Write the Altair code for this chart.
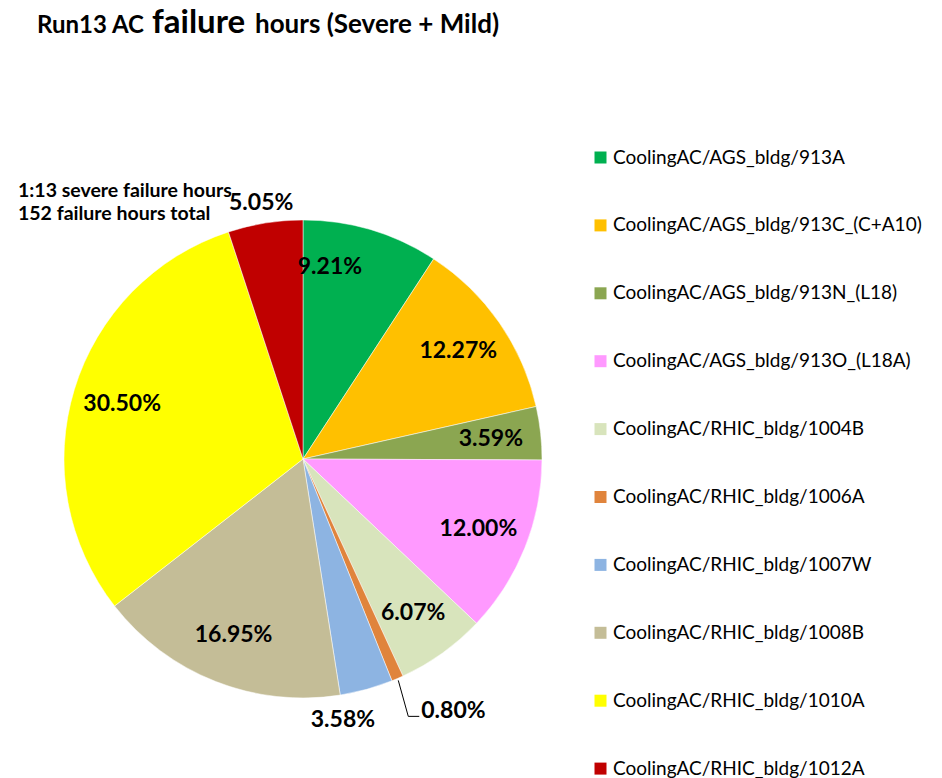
import altair as alt
import pandas as pd

categories = [
    "CoolingAC/AGS_bldg/913A",
    "CoolingAC/AGS_bldg/913C_(C+A10)",
    "CoolingAC/AGS_bldg/913N_(L18)",
    "CoolingAC/AGS_bldg/913O_(L18A)",
    "CoolingAC/RHIC_bldg/1004B",
    "CoolingAC/RHIC_bldg/1006A",
    "CoolingAC/RHIC_bldg/1007W",
    "CoolingAC/RHIC_bldg/1008B",
    "CoolingAC/RHIC_bldg/1010A",
    "CoolingAC/RHIC_bldg/1012A",
]
values = [9.21, 12.27, 3.59, 12.00, 6.07, 0.80, 3.58, 16.95, 30.50, 5.05]
colors = ["#00B050", "#FFC000", "#8BA651", "#FF99FF", "#D8E4BC",
          "#E0843C", "#8DB4E2", "#C4BD97", "#FFFF00", "#C00000"]

df = pd.DataFrame({
    "category": categories,
    "value": values,
    "order": list(range(len(values))),
    "label": [f"{v:.2f}%" for v in values],
})

FONT = "Lato"
CX, CY, R = 295, 451, 239  # view coords (page minus 8px margin)
LBL = 23

color_scale = alt.Scale(domain=categories, range=colors)

pie = alt.Chart(df).mark_arc(outerRadius=R, stroke="white", strokeWidth=0.5).encode(
    theta=alt.Theta("value:Q", stack=True),
    order=alt.Order("order:Q"),
    color=alt.Color(
        "category:N", scale=color_scale,
        legend=alt.Legend(
            title=None, orient="none", legendX=583, legendY=140,
            symbolType="square", symbolSize=144, symbolStrokeWidth=0,
            labelFont=FONT, labelFontSize=19, labelColor="#000000",
            rowPadding=47.9, labelOffset=3, labelLimit=400,
        ),
    ),
    x=alt.value(CX),
    y=alt.value(CY),
)

base = (
    alt.Chart(df)
    .transform_window(cum="sum(value)", sort=[alt.SortField("order")], frame=[None, 0])
    .transform_joinaggregate(total="sum(value)")
    .transform_calculate(mid="(datum.cum - datum.value/2)/datum.total*2*PI")
)


def label_layer(filt, r, dtheta=0.0, align="center", dx=0, dy=0, size=LBL):
    return (
        base.transform_filter(filt)
        .transform_calculate(
            px=f"{CX} + {r}*sin(datum.mid + {dtheta}*PI/180)",
            py=f"{CY} - {r}*cos(datum.mid + {dtheta}*PI/180)",
        )
        .mark_text(font=FONT, fontSize=size, fontWeight="bold", color="#000000",
                   align=align, baseline="middle", dx=dx, dy=dy)
        .encode(x=alt.X("px:Q", scale=None), y=alt.Y("py:Q", scale=None), text="label:N")
    )


normal = label_layer("indexof([1,2,3,4,7,8], datum.order) >= 0", 189)
lab0 = label_layer("datum.order == 0", 194, -8.6)
lab6 = label_layer("datum.order == 6", 264, 6.7)
lab9 = label_layer("datum.order == 9", 259, -0.2)

# 0.80% label with leader line
edge = base.transform_filter("datum.order == 5").transform_calculate(
    ex=f"{CX} + {R + 2}*sin(datum.mid)",
    ey=f"{CY} - {R + 2}*cos(datum.mid)",
)
lead1 = edge.transform_calculate(
    ex2="datum.ex + 10", ey2="datum.ey + 36"
).mark_rule(color="#000000", strokeWidth=1).encode(
    x=alt.X("ex:Q", scale=None), y=alt.Y("ey:Q", scale=None),
    x2="ex2:Q", y2="ey2:Q",
)
lead2 = edge.transform_calculate(
    sx="datum.ex + 10", sy="datum.ey + 36", sx2="datum.ex + 21"
).mark_rule(color="#000000", strokeWidth=1).encode(
    x=alt.X("sx:Q", scale=None), y=alt.Y("sy:Q", scale=None), x2="sx2:Q",
)
lab5 = edge.mark_text(font=FONT, fontSize=LBL, fontWeight="bold", color="#000000",
                      align="left", baseline="middle", dx=23, dy=31).encode(
    x=alt.X("ex:Q", scale=None), y=alt.Y("ey:Q", scale=None), text="label:N")

# Title in three parts (middle word larger)
title_parts = [
    ("Run13 AC", 29, 24),
    ("failure", 144, 33),
    ("hours (Severe + Mild)", 247, 26),
]
title_layers = [
    alt.Chart(pd.DataFrame({"t": [t]})).mark_text(
        font=FONT, fontSize=s, fontWeight="bold", color="#000000",
        align="left", baseline="alphabetic",
    ).encode(text="t:N", x=alt.value(x), y=alt.value(25))
    for t, x, s in title_parts
]

note_lines = ["1:13 severe failure hours", "152 failure hours total"]
notes = [
    alt.Chart(pd.DataFrame({"t": [t]})).mark_text(
        font=FONT, fontSize=19.5, fontWeight="bold", color="#000000",
        align="left", baseline="alphabetic",
    ).encode(text="t:N", x=alt.value(10), y=alt.value(yy))
    for t, yy in zip(note_lines, [189, 212])
]

chart = alt.layer(
    pie, normal, lab0, lab6, lab9, lead1, lead2, lab5, *title_layers, *notes
).properties(
    width=926, height=770, padding=0,
    autosize=alt.AutoSizeParams(type="none"),
).configure_view(stroke=None)

chart.save("out.html", embed_options={"renderer": "svg", "actions": False})
